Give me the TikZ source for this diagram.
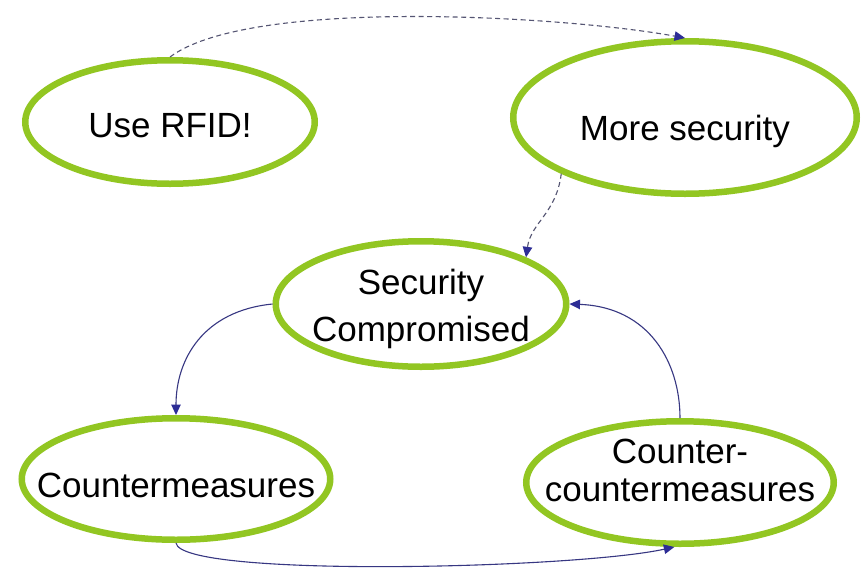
\documentclass[tikz,border=0pt]{standalone}
\usepackage{fontspec}
\setmainfont{Liberation Sans}
\usetikzlibrary{arrows.meta,shapes.geometric}
\definecolor{leafgreen}{RGB}{146,198,34}
\definecolor{linkblue}{RGB}{55,55,130}
\definecolor{tipblue}{RGB}{45,45,150}
\definecolor{dashgrey}{RGB}{85,85,115}
\newcommand{\bubbletext}[3][42]{\raisebox{#2}[0pt][0pt]{\fontsize{35}{#1}\selectfont\makebox[0pt]{\begin{tabular}{@{}c@{}}#3\end{tabular}}}}
\begin{document}
\begin{tikzpicture}[x=1pt,y=-1pt,
		bubble/.style={ellipse, draw=leafgreen, line width=6.5pt, inner sep=0pt},
		link/.style={draw=linkblue, line width=1.1pt, -{Triangle[length=10.5pt,width=9.5pt,color=tipblue]}},
		dashlink/.style={link, draw=dashgrey, dash pattern=on 5pt off 3.5pt}]
			\useasboundingbox[fill=white] (0,0) rectangle (863,571);

			\node[bubble, minimum width=289.5pt, minimum height=123.5pt] (rfid) at (170,122) {\bubbletext{-13.5pt}{Use RFID!}};
			\node[bubble, minimum width=343.5pt, minimum height=152.5pt] (more) at (685,117.5) {\bubbletext{-21pt}{More security}};
			\node[bubble, minimum width=290.5pt, minimum height=125.5pt] (comp) at (421,304) {\bubbletext[47]{-10.75pt}{Security\\Compromised}};
			\node[bubble, minimum width=308.5pt, minimum height=121.5pt] (cm) at (176,479) {\bubbletext{-16pt}{Countermeasures}};
			\node[bubble, minimum width=307.5pt, minimum height=122.5pt] (ccm) at (680,482.5) {\bubbletext[38]{1pt}{Counter-\\countermeasures}};

			\draw[dashlink] (rfid.north) .. controls +(80,-60) and +(-120,-22) .. (more.north);
			\draw[dashlink] (more.south west) .. controls +(-5,40) and +(5,-35) .. (comp.north east);

			\draw[link] (comp.west) .. controls +(-70,7) and +(0,-55) .. (cm.north);
			\draw[link] (cm.south) .. controls +(5,35) and +(-100,22) .. (ccm.265);
			\draw[link] (ccm.north) .. controls +(0,-55) and +(80,3) .. (comp.east);
	\end{tikzpicture}
\end{document}
